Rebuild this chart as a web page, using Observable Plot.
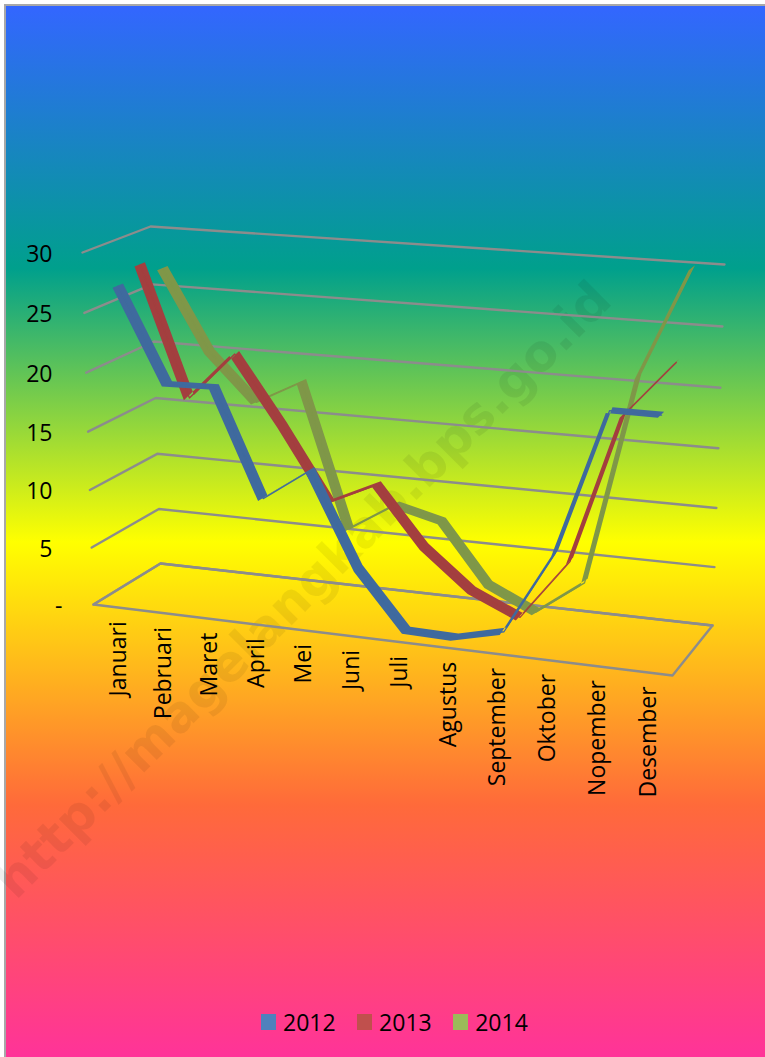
<!DOCTYPE html>
<html><head><meta charset="utf-8">
<script src="https://cdn.jsdelivr.net/npm/d3@7"></script>
<script src="https://cdn.jsdelivr.net/npm/@observablehq/plot@0.6"></script>
<style>
html,body{margin:0;padding:0;background:#fff;width:765px;height:1057px;overflow:hidden}
#bg{position:absolute;left:4px;top:4px;right:0;bottom:0;border-left:2px solid #a8a8a8;border-top:2px solid #a8a8a8;
background:linear-gradient(to bottom,#3366ff 0%,#00a08c 25%,#ffff00 51%,#ff6a3a 76%,#ff3399 100%)}
#chart{position:relative}
#chart svg{display:block}
#legend{position:relative;height:47px;margin-left:261px;display:flex;align-items:flex-start;font:23px "Open Sans",sans-serif;color:#000;line-height:24px}
#legend span.i{display:flex;align-items:center;margin-right:21.5px}
#legend span.s{display:inline-block;width:15px;height:16px;margin-right:7px}
</style></head><body>
<div id="bg"></div>
<div id="chart"></div>
<div id="legend"></div>
<script>
const months=["Januari","Pebruari","Maret","April","Mei","Juni","Juli","Agustus","September","Oktober","Nopember","Desember"];
const years=["2012","2013","2014"];
const v2012=[27,19.1,19.2,10.2,13,5.1,0.3,0.2,1.2,8.2,20.2,20.2];
const v2013=[28,17,21.1,15.4,9.2,11.1,6.2,2.9,1.1,6.3,18.8,23.4];
const v2014=[26.9,20,16,18.1,5.7,8.2,7.2,2.1,0.2,3.2,20.9,30];
const ticks=[0,5,10,15,20,25,30];
const tickLabels=["-","5","10","15","20","25","30"];
const swatch=["#4f81bd","#c0504d","#9bbb59"];
const ribbon=["#3f6a9e","#a33f3f","#7f9748"];
const W=765,H=1010;
// corners of the chart's 3D box, floor and top
const floor=[[93,604],[672,675],[160,563],[712,625]];
const top30=[[82,252],[685,297],[150,226],[724,264]];
const lerp=(a,b,u)=>a+(b-a)*u;
const persp=(u,a)=>a*u/(1+(a-1)*u);
const bil=(c,t,s,i)=>{const T=persp(t,.937);return lerp(lerp(c[0][i],c[1][i],T),lerp(c[2][i],c[3][i],T),s);};
const px=(t,s,v)=>lerp(bil(floor,t,s,0),bil(top30,t,s,0),persp(v/30,.965));
const py=(t,s,v)=>lerp(bil(floor,t,s,1),bil(top30,t,s,1),persp(v/30,.965));
const halfDepth=.078;
const rows=(vals,i)=>vals.map((v,m)=>{const t=(m+.5)/12,s=(i+.5)/3;
  return {x:px(t,s,v),y:py(t,s,v),x1:px(t,s-halfDepth,v),y1:py(t,s-halfDepth,v),x2:px(t,s+halfDepth,v),y2:py(t,s+halfDepth,v)};});
const series=[v2012,v2013,v2014].map(rows);
const grid=ticks.flatMap(v=>[[0,0],[0,1],[1,1]].map(([t,s])=>({v,x:px(t,s,v),y:py(t,s,v)})));
const floorLine=[[0,0],[0,1],[1,1],[1,0],[0,0]].map(([t,s])=>({x:px(t,s,0),y:py(t,s,0)}));
const monthRows=months.map((m,i)=>({m,x:px((i+.5)/12,0,0),y:py((i+.5)/12,0,0)}));
const tickRows=ticks.map((v,i)=>({l:tickLabels[i],y:py(0,0,v)}));
const ribbonMarks=[2,1,0].flatMap(i=>[
  Plot.area(series[i],{x1:"x1",y1:"y1",x2:"x2",y2:"y2",fill:ribbon[i],curve:"linear"}),
  Plot.line(series[i],{x:"x",y:"y",stroke:ribbon[i],strokeWidth:1.3,curve:"linear"})
]);
const plot=Plot.plot({width:W,height:H,margin:0,
  style:{background:"transparent"},
  x:{axis:null,domain:[0,W],range:[0,W]},
  y:{axis:null,domain:[0,H],range:[0,H]},
  marks:[
    Plot.text(["http://magelangkab.bps.go.id"],{x:()=>303,y:()=>590,text:d=>d,rotate:-45,fontSize:50.5,fontWeight:"bold",fontFamily:"DejaVu Sans",fill:"#000",fillOpacity:.065}),
    Plot.line(grid,{x:"x",y:"y",z:"v",stroke:"#8c8c8c",strokeWidth:2.4,curve:"linear"}),
    Plot.line(floorLine,{x:"x",y:"y",stroke:"#8c8c8c",strokeWidth:2.4,curve:"linear"}),
    ...ribbonMarks,
    Plot.text(tickRows,{x:d=>d.l==="-"?62:52,y:"y",text:"l",dy:2,textAnchor:"end",fontSize:23,fontFamily:"Open Sans",fill:"#000"}),
    Plot.text(monthRows,{x:"x",y:"y",text:"m",dx:2,dy:14,rotate:-90,textAnchor:"end",fontSize:23,fontFamily:"Open Sans",fill:"#000"})
  ]});
document.getElementById("chart").append(plot);
document.getElementById("legend").innerHTML=years.map((y,i)=>`<span class="i"><span class="s" style="background:${swatch[i]}"></span>${y}</span>`).join("");
</script>
</body></html>
